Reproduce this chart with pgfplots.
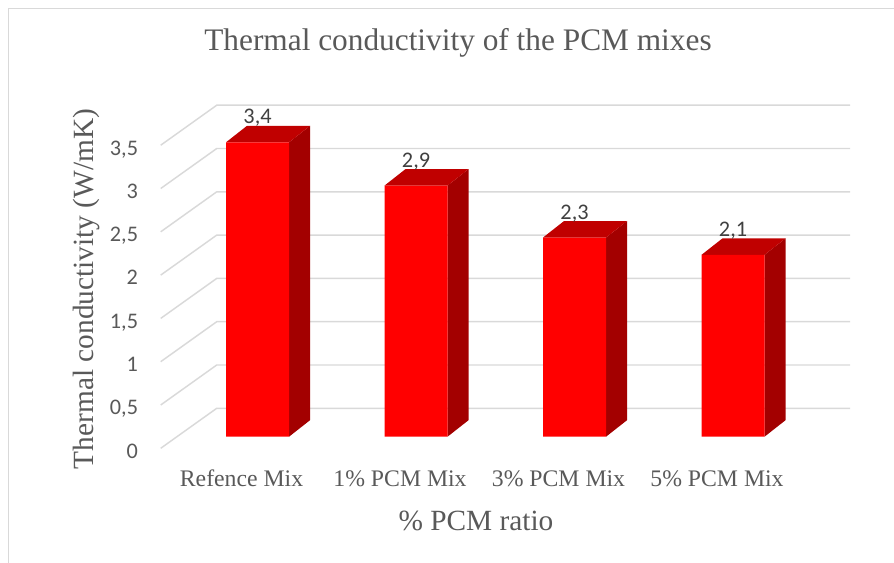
\documentclass[border=0pt]{standalone}
\usepackage{pgfplots}
\pgfplotsset{compat=1.18}
\usepackage{pgfplotstable}
\usepackage{fontspec}
\setmainfont{Liberation Serif}
\newfontfamily\calibri{Carlito}
\definecolor{frontred}{HTML}{FF0000}
\definecolor{sidered}{HTML}{A30000}
\definecolor{topred}{HTML}{C00000}
\definecolor{gridgray}{HTML}{D9D9D9}
\definecolor{txtgray}{HTML}{595959}
\definecolor{lblgray}{HTML}{404040}

\pgfplotstableread{
idx v
0 3.4
1 2.9
2 2.3
3 2.1
}\conductivity

\begin{document}
\begin{tikzpicture}
\useasboundingbox (0,0) rectangle (670.5pt,422.25pt);
\draw[gridgray, line width=1.1pt] (6.225pt,0pt) -- (6.225pt,416.025pt) -- (670.5pt,416.025pt);
\begin{axis}[
  at={(120.525pt,86.025pt)}, anchor=south west,
  scale only axis, width=516.975pt, height=257.7pt,
  xmin=-0.611, xmax=3.738, ymin=-0.134, ymax=3.834,
  clip=false,
  axis line style={draw=none},
  major tick length=0pt,
  tick style={draw=none},
  /pgf/number format/assume math mode=true,
  ytick={-0.134,0.366,0.866,1.366,1.866,2.366,2.866,3.366},
  yticklabels={0,{0,5},1,{1,5},2,{2,5},3,{3,5}},
  yticklabel style={anchor=base east, inner sep=0pt, xshift=-16.8pt, yshift=-7.4pt,
    font=\calibri\fontsize{16.7}{19}\selectfont, text=txtgray},
  xtick={-0.101,0.899,1.899,2.899},
  xticklabels={Refence Mix,1\% PCM Mix,3\% PCM Mix,5\% PCM Mix},
  xticklabel style={anchor=base, inner sep=0pt, yshift=-28.8pt,
    font=\fontsize{17.8}{20}\selectfont, text=txtgray},
  title={Thermal conductivity of the PCM mixes},
  title style={at={(rel axis cs:0.4313,1)}, anchor=base, yshift=34.8pt, inner sep=0pt,
    font=\fontsize{23.5}{26}\selectfont, text=txtgray},
  xlabel={\% PCM ratio},
  xlabel style={at={(rel axis cs:0.4574,0)}, anchor=base, yshift=-61.3pt, inner sep=0pt,
    font=\fontsize{22}{24}\selectfont, text=txtgray},
  ylabel={Thermal conductivity (W/mK)},
  ylabel style={at={(rel axis cs:-0.0978,0.4636)}, anchor=base, inner sep=0pt,
    font=\fontsize{22}{24}\selectfont, text=txtgray},
]
% back wall and side wall gridlines
\addplot[gridgray, line width=1.1pt, mark=none] coordinates {(-0.611,-0.134) (-0.2574,0.328) (3.738,0.328)};
\addplot[gridgray, line width=1.1pt, mark=none] coordinates {(-0.611,0.366) (-0.2574,0.828) (3.738,0.828)};
\addplot[gridgray, line width=1.1pt, mark=none] coordinates {(-0.611,0.866) (-0.2574,1.328) (3.738,1.328)};
\addplot[gridgray, line width=1.1pt, mark=none] coordinates {(-0.611,1.366) (-0.2574,1.828) (3.738,1.828)};
\addplot[gridgray, line width=1.1pt, mark=none] coordinates {(-0.611,1.866) (-0.2574,2.328) (3.738,2.328)};
\addplot[gridgray, line width=1.1pt, mark=none] coordinates {(-0.611,2.366) (-0.2574,2.828) (3.738,2.828)};
\addplot[gridgray, line width=1.1pt, mark=none] coordinates {(-0.611,2.866) (-0.2574,3.328) (3.738,3.328)};
\addplot[gridgray, line width=1.1pt, mark=none] coordinates {(-0.611,3.366) (-0.2574,3.828) (3.738,3.828)};
% side and top faces of the 3D columns, from the table values
\pgfplotsforeachungrouped \i in {0,1,2,3}{%
  \pgfplotstablegetelem{\i}{v}\of\conductivity
  \pgfmathsetmacro\vv{\pgfplotsretval}%
  \pgfmathsetmacro\vt{\pgfplotsretval+0.1905}%
  \pgfmathsetmacro\xl{\i-0.19875}%
  \pgfmathsetmacro\xr{\i+0.19875}%
  \pgfmathsetmacro\xlb{\i-0.19875+0.1325}%
  \pgfmathsetmacro\xrb{\i+0.19875+0.1325}%
  \edef\cmd{%
    \noexpand\addplot[fill=sidered, draw=none, mark=none] coordinates {(\xr,0) (\xrb,0.1905) (\xrb,\vt) (\xr,\vv)};
    \noexpand\addplot[fill=topred, draw=none, mark=none] coordinates {(\xl,\vv) (\xr,\vv) (\xrb,\vt) (\xlb,\vt)};
  }%
  \cmd
}
% front faces
\addplot[ybar, bar width=47.25pt, fill=frontred, draw=none] table[x=idx, y=v]{\conductivity};
% data labels
\addplot[draw=none, mark=none, point meta=explicit,
  nodes near coords={\pgfmathprintnumber[fixed, precision=1, use comma]{\pgfplotspointmeta}},
  every node near coord/.append style={anchor=base, inner sep=0pt,
    font=\calibri\fontsize{16.7}{19}\selectfont, text=lblgray}]
  table[x=idx, y expr=\thisrow{v}+0.212, meta=v]{\conductivity};
\end{axis}
\end{tikzpicture}
\end{document}
